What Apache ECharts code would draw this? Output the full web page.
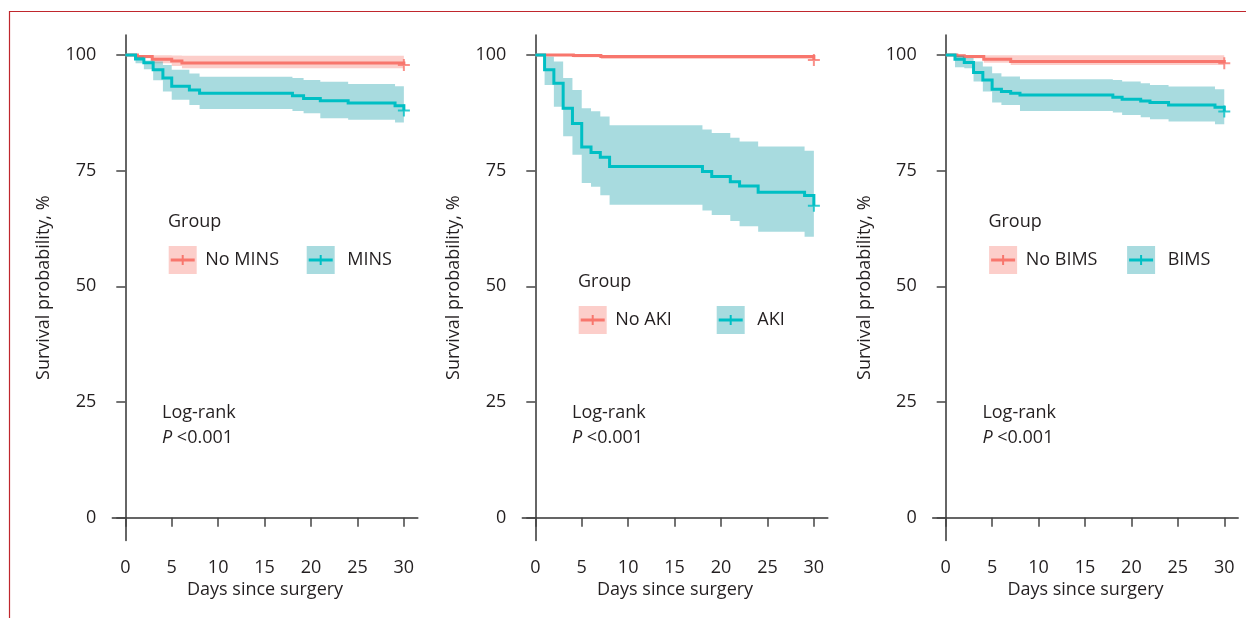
<!DOCTYPE html>
<html>
<head>
<meta charset="utf-8">
<script src="https://cdn.jsdelivr.net/npm/echarts@6.0.0/dist/echarts.min.js"></script>
<style>
  html, body { margin: 0; padding: 0; background: #fff; }
  #main { width: 1246px; height: 618px; }
</style>
</head>
<body>
<div id="main"></div>
<script>
// tick labels
var xTicks = [0, 5, 10, 15, 20, 25, 30]
var yTicks = [0, 25, 50, 75, 100]

// panel 1: MINS
var noMinsTimes = [0, 1.3, 2.9, 5, 6.1, 30]
var noMinsSurv  = [100, 99.64, 99.06, 98.7, 98.27, 97.84]
var noMinsLower = [100, 99.3, 98.2, 97.6, 97.1, 97.1]
var noMinsUpper = [100, 100, 99.9, 99.86, 99.8, 99.8]

var minsTimes = [0, 1.1, 2, 3, 4.05, 5, 6.9, 8, 18, 19.2, 21, 24, 29.05, 30]
var minsSurv  = [100, 99.1, 98.3, 96.8, 95.0, 93.2, 92.4, 91.7, 91.2, 90.6, 90.1, 89.6, 89.0, 88.0]
var minsLower = [100, 98.2, 96.9, 94.5, 92.1, 90.3, 89.2, 88.3, 87.9, 87.4, 86.3, 86.0, 85.4, 85.4]
var minsUpper = [100, 99.6, 98.8, 98.6, 97.8, 96.8, 96.0, 95.3, 95.0, 94.6, 94.2, 93.7, 93.2, 93.2]

// panel 2: AKI
var noAkiTimes = [0, 4.1, 7.06, 30]
var noAkiSurv  = [100, 99.86, 99.64, 98.9]
var noAkiLower = [100, 99.5, 99.1, 99.1]
var noAkiUpper = [100, 100, 100, 100]

var akiTimes = [0, 1, 2, 3, 4, 5, 6, 7, 8, 18, 19, 21, 22, 24, 29, 30]
var akiSurv  = [100, 96.8, 93.9, 88.5, 85.2, 80.1, 78.9, 77.9, 75.9, 74.8, 73.7, 72.6, 71.7, 70.3, 69.6, 67.4]
var akiLower = [100, 93.5, 88.8, 82.4, 78.4, 72.3, 71.5, 69.7, 67.6, 66.4, 65.4, 64.1, 63.0, 61.8, 60.7, 60.7]
var akiUpper = [100, 99.6, 98.6, 95.0, 92.4, 88.5, 87.8, 86.7, 84.8, 83.9, 83.1, 82.1, 81.3, 80.2, 79.3, 79.3]

// panel 3: BIMS
var noBimsTimes = [0, 1.2, 2, 4.1, 7, 30]
var noBimsSurv  = [100, 99.83, 99.64, 99.06, 98.56, 98.2]
var noBimsLower = [100, 99.5, 99.3, 98.3, 97.84, 97.84]
var noBimsUpper = [100, 100, 100, 99.9, 99.9, 99.9]

var bimsTimes = [0, 1, 2, 3, 4, 5, 6, 7, 8, 18, 19, 21, 22, 24, 29, 30]
var bimsSurv  = [100, 99.06, 98.34, 96.18, 94.6, 92.58, 92.08, 91.72, 91.36, 90.86, 90.42, 90.06, 89.7, 89.2, 88.69, 87.76]
var bimsLower = [100, 97.34, 97.12, 94.24, 92.08, 89.7, 89.2, 89.2, 87.9, 87.54, 87.04, 86.53, 86.1, 85.6, 85.02, 85.02]
var bimsUpper = [100, 99.83, 99.32, 98.56, 97.48, 96.04, 95.32, 95.32, 94.74, 94.6, 94.24, 93.88, 93.52, 93.16, 92.58, 92.58]

var panels = [
  { groups: [['No MINS', noMinsTimes, noMinsSurv, noMinsLower, noMinsUpper], ['MINS', minsTimes, minsSurv, minsLower, minsUpper]], legendY: 0 },
  { groups: [['No AKI', noAkiTimes, noAkiSurv, noAkiLower, noAkiUpper], ['AKI', akiTimes, akiSurv, akiLower, akiUpper]], legendY: 60 },
  { groups: [['No BIMS', noBimsTimes, noBimsSurv, noBimsLower, noBimsUpper], ['BIMS', bimsTimes, bimsSurv, bimsLower, bimsUpper]], legendY: 0 }
]

var lineColors = ['#F8766D', '#00BFC4']
var fillColors = ['rgba(248,118,109,0.36)', 'rgba(0,150,160,0.34)']
var font = 'Open Sans'
var textColor = '#231f20'
var gridLeft = [112.3, 522.3, 932.7]
var dx = [0, 410, 820.4]

var cross = 'path://M-6,-1H6V1H-6Z M-1,-6H1V6H-1Z'

// step-shaped confidence ribbon as one polygon, through the axis scales
function ribbonRenderer (fill) {
  return function (params, api) {
    if (params.dataIndex !== 0) return null
    var n = params.dataInsideLength
    var rows = []
    for (var i = 0; i < n; i++) rows.push([api.value(0, i), api.value(1, i), api.value(2, i)])
    var pts = []
    for (i = 0; i < n - 1; i++) {
      pts.push(api.coord([rows[i][0], rows[i][2]]))
      pts.push(api.coord([rows[i + 1][0], rows[i][2]]))
    }
    for (i = n - 2; i >= 0; i--) {
      pts.push(api.coord([rows[i + 1][0], rows[i][1]]))
      pts.push(api.coord([rows[i][0], rows[i][1]]))
    }
    return { type: 'polygon', shape: { points: pts }, style: { fill: fill } }
  }
}

// Kaplan-Meier step line (horizontal, then drop at next event)
function stepRenderer (color) {
  return function (params, api) {
    if (params.dataIndex !== 0) return null
    var n = params.dataInsideLength
    var pts = []
    for (var i = 0; i < n; i++) {
      var t = api.value(0, i), s = api.value(1, i)
      if (i > 0) pts.push(api.coord([t, api.value(1, i - 1)]))
      pts.push(api.coord([t, s]))
    }
    return { type: 'polyline', shape: { points: pts },
      style: { stroke: color, lineWidth: 3, fill: null, lineJoin: 'miter' } }
  }
}

var grids = [], xAxes = [], yAxes = [], series = [], graphics = []

panels.forEach(function (panel, p) {
  grids.push({ left: gridLeft[p], top: 35, width: 305.5, height: 505.4 })
  xAxes.push({
    gridIndex: p, type: 'value', min: -1.4, max: 31.5,
    name: 'Days since surgery', nameLocation: 'middle', nameGap: 40,
    nameTextStyle: { fontFamily: font, fontSize: 18, color: textColor },
    axisLine: { lineStyle: { color: '#333', width: 1.5 } },
    axisTick: { length: 9, lineStyle: { color: '#444', width: 1.5 }, customValues: xTicks },
    axisLabel: { margin: 18, fontFamily: font, fontSize: 18, color: textColor, customValues: xTicks },
    splitLine: { show: false }
  })
  yAxes.push({
    gridIndex: p, type: 'value', min: -4.9, max: 104.3,
    name: 'Survival probability, %', nameLocation: 'middle', nameGap: 59,
    nameTextStyle: { fontFamily: font, fontSize: 18, color: textColor },
    axisLine: { show: true, lineStyle: { color: '#333', width: 1.5 } },
    axisTick: { show: true, length: 9, lineStyle: { color: '#444', width: 1.5 }, customValues: yTicks },
    axisLabel: { margin: 16, fontFamily: font, fontSize: 18, color: textColor, customValues: yTicks },
    splitLine: { show: false }
  })

  panel.groups.forEach(function (g, k) {
    var times = g[1], surv = g[2], lower = g[3], upper = g[4]
    series.push({
      type: 'custom', xAxisIndex: p, yAxisIndex: p, silent: true,
      renderItem: ribbonRenderer(fillColors[k]),
      data: times.map(function (t, i) { return [t, lower[i], upper[i]] })
    })
    series.push({
      type: 'custom', xAxisIndex: p, yAxisIndex: p, silent: true,
      renderItem: stepRenderer(lineColors[k]),
      data: times.map(function (t, i) { return [t, surv[i]] })
    })
    // censor mark at end of follow-up
    series.push({
      type: 'scatter', xAxisIndex: p, yAxisIndex: p, silent: true,
      symbol: cross, symbolSize: 12, itemStyle: { color: lineColors[k] },
      data: [[times[times.length - 1], surv[surv.length - 1]]]
    })
  })

  // legend
  var ox = dx[p], oy = panel.legendY
  graphics.push({ type: 'text', x: 168 + ox, y: 222 + oy,
    style: { text: 'Group', fontFamily: font, fontSize: 18, fill: textColor, verticalAlign: 'middle' } })
  var keyX = [168.7, 306.7]
  var labelX = [205.3, 347.3]
  panel.groups.forEach(function (g, k) {
    var kx = keyX[k] + ox, ky = 246 + oy
    graphics.push({ type: 'rect', shape: { x: kx, y: ky, width: 28, height: 28 }, style: { fill: fillColors[k] } })
    graphics.push({ type: 'line', shape: { x1: kx + 2, y1: ky + 14, x2: kx + 26, y2: ky + 14 }, style: { stroke: lineColors[k], lineWidth: 3 } })
    graphics.push({ type: 'line', shape: { x1: kx + 14, y1: ky + 9, x2: kx + 14, y2: ky + 19 }, style: { stroke: lineColors[k], lineWidth: 2 } })
    graphics.push({ type: 'text', x: labelX[k] + ox, y: ky + 14,
      style: { text: g[0], fontFamily: font, fontSize: 18, fill: textColor, verticalAlign: 'middle' } })
  })
  // log-rank note
  graphics.push({ type: 'text', x: 162 + ox, y: 413,
    style: { text: 'Log-rank', fontFamily: font, fontSize: 18, fill: textColor, verticalAlign: 'middle' } })
  graphics.push({ type: 'text', x: 162 + ox, y: 438,
    style: { text: '{i|P} <0.001', fontFamily: font, fontSize: 18, fill: textColor, verticalAlign: 'middle',
      rich: { i: { fontStyle: 'italic', fontFamily: font, fontSize: 18, fill: textColor } } } })
})

// frame
graphics.push({ type: 'rect', shape: { x: 9.5, y: 11.5, width: 1400, height: 800 },
  style: { fill: 'none', stroke: '#c0272d', lineWidth: 1.2 } })

var chart = echarts.init(document.getElementById('main'))
chart.setOption({
  animation: false,
  grid: grids,
  xAxis: xAxes,
  yAxis: yAxes,
  series: series,
  graphic: graphics
})
</script>
</body>
</html>
